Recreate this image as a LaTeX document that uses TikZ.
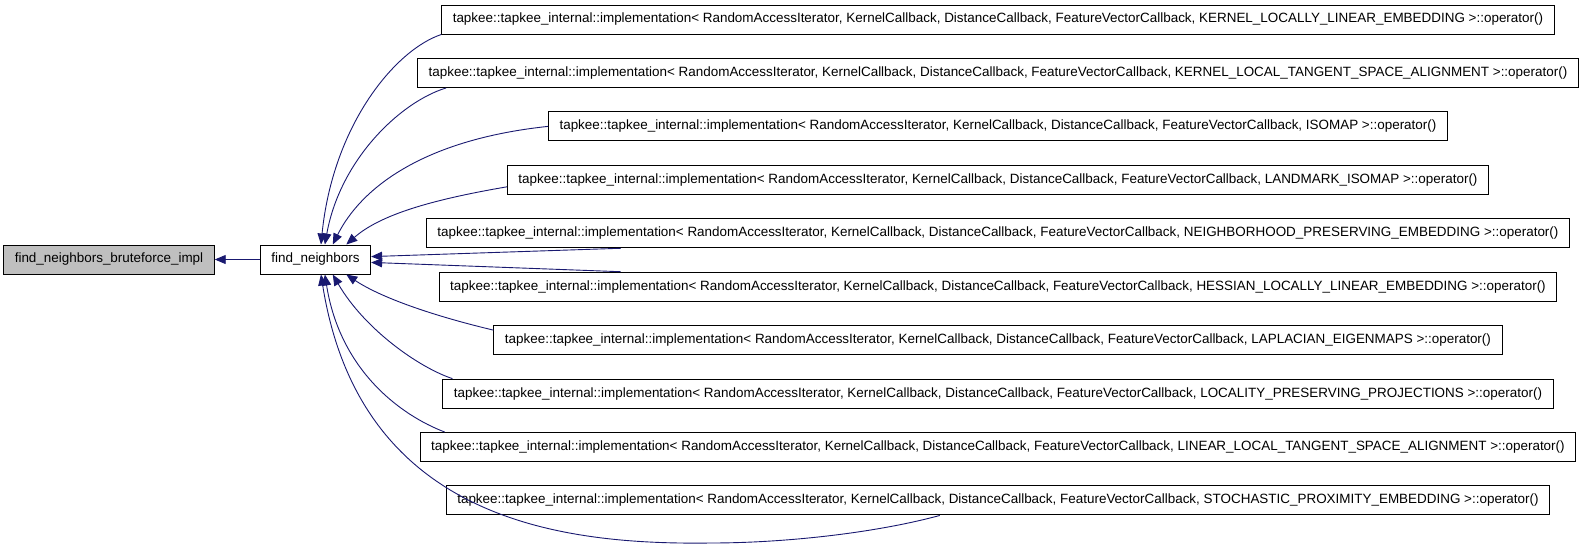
\documentclass[tikz,border=0pt]{standalone}
\usepackage{fontspec}
\setmainfont{Liberation Sans}
\usetikzlibrary{arrows.meta,calc}
\definecolor{edgeblue}{HTML}{191970}
\definecolor{focusgray}{HTML}{BFBFBF}
\newcommand{\implop}[1]{tapkee::tapkee\_internal::implementation< RandomAccessIterator, KernelCallback, DistanceCallback, FeatureVectorCallback, #1 >::operator()}

\begin{document}
\begin{tikzpicture}[
    x=1pt, y=-1pt,
    font=\fontsize{13.45}{15}\selectfont,
    >={Triangle[length=11pt,width=9pt]},
    fnbox/.style = {draw=black, fill=white, line width=1pt, minimum height=29pt,
                    inner xsep=11pt, inner ysep=0pt},
    focus/.style = {fnbox, fill=focusgray},
    dep/.style   = {draw=edgeblue, line width=0.9pt, ->},
  ]
  \useasboundingbox (0,0) rectangle (1581,550);

  % --- Callees -----------------------------------------------------------
  \node[focus] (brute) at (109,259.5) {find\_neighbors\_bruteforce\_impl};
  \node[fnbox] (fn)    at (315.5,259.5) {find\_neighbors};

  % --- Callers -----------------------------------------------------------
  \foreach \i/\algo in {1/KERNEL\_LOCALLY\_LINEAR\_EMBEDDING,
                        2/KERNEL\_LOCAL\_TANGENT\_SPACE\_ALIGNMENT,
                        3/ISOMAP,
                        4/LANDMARK\_ISOMAP,
                        5/NEIGHBORHOOD\_PRESERVING\_EMBEDDING,
                        6/HESSIAN\_LOCALLY\_LINEAR\_EMBEDDING,
                        7/LAPLACIAN\_EIGENMAPS,
                        8/LOCALITY\_PRESERVING\_PROJECTIONS,
                        9/LINEAR\_LOCAL\_TANGENT\_SPACE\_ALIGNMENT,
                        10/STOCHASTIC\_PROXIMITY\_EMBEDDING}{
    \node[fnbox] (c\i) at (998,{19.5+53.44*(\i-1)}) {\implop{\algo}};
  }

  % --- Call edges --------------------------------------------------------
  \draw[dep] (fn) -- (brute);

  \draw[dep] (c1.south west) .. controls (395,50) and (333,125) .. (fn.70);
  \draw[dep] ($(c2.south west)+(29,0)$) .. controls (400,102) and (340,160) .. (fn.58);
  \draw[dep] (c3.west) .. controls (420,140) and (360,190) .. (fn.41);
  \draw[dep] ($(c4.west)+(0,7)$) .. controls (430,200) and (380,215) .. (fn.26);
  \draw[dep] ($(c5.south west)+(195,0)$) -- (fn.3);
  \draw[dep] ($(c6.north west)+(182,0)$) -- (fn.-3);
  \draw[dep] ($(c7.north west)+(0,5)$) .. controls (430,315) and (380,297) .. (fn.-26);
  \draw[dep] ($(c8.north west)+(10,0)$) .. controls (420,368) and (365,330) .. (fn.-41);
  \draw[dep] ($(c9.north west)+(25,0)$) .. controls (400,415) and (340,370) .. (fn.-58);
  \draw[dep] ($(c10.south west)+(494,0)$) .. controls (875,533) and (785,543) .. (710,543)
             .. controls (560,545) and (360,520) .. (fn.-70);

\end{tikzpicture}
\end{document}
